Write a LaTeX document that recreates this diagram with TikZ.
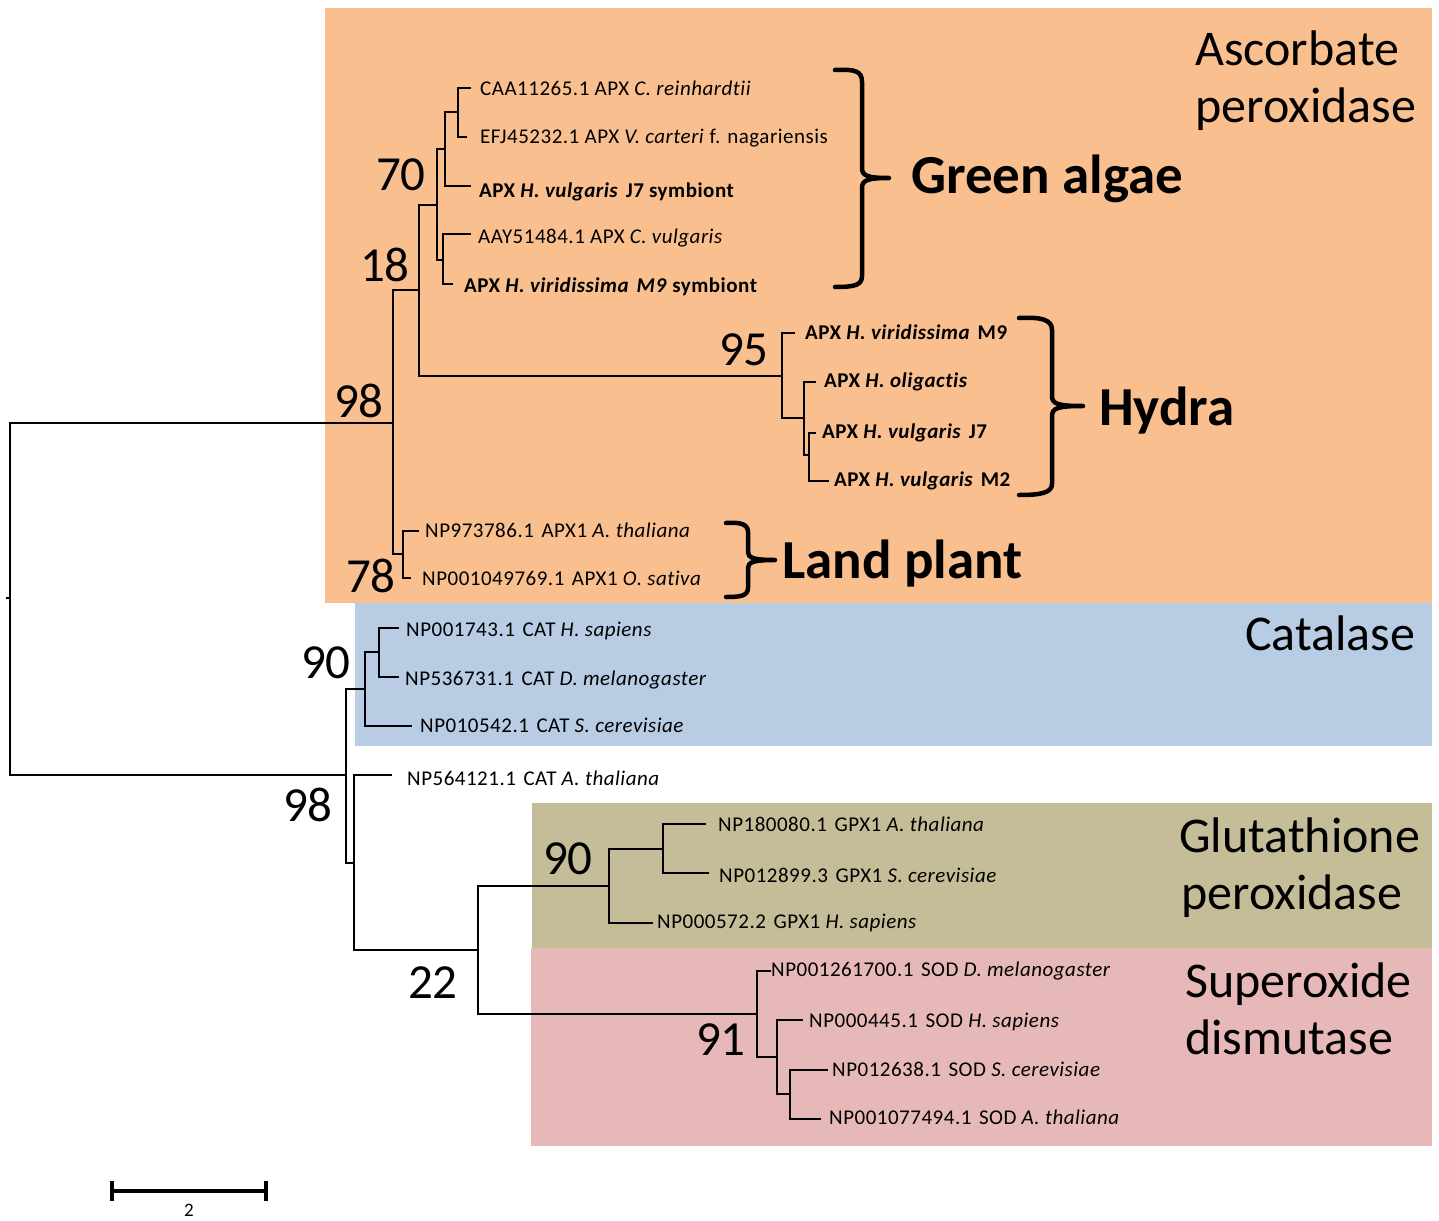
\documentclass[tikz,border=0pt]{standalone}
\usepackage{fontspec}
\setmainfont{Carlito}
\newfontfamily\leaffont{Carlito}[LetterSpace=2.4,Ligatures=NoCommon]
\definecolor{apxc}{HTML}{F9BF8F}
\definecolor{catc}{HTML}{B8CCE4}
\definecolor{gpxc}{HTML}{C4BD97}
\definecolor{sodc}{HTML}{E6B8B7}
\newcommand\twosp{\hskip0.36em\relax}
\tikzset{
  br/.style={line width=1.6pt, line cap=rect},
  leaf/.style={anchor=base west, inner sep=0pt, font=\leaffont\fontsize{21}{25}\selectfont},
  boot/.style={anchor=base east, inner sep=0pt, font=\fontsize{49}{55}\selectfont},
  grp/.style={anchor=base west, inner sep=0pt, font=\fontsize{50}{58}\selectfont},
  clade/.style={anchor=base west, inner sep=0pt, font=\bfseries\fontsize{55}{60}\selectfont},
  bracepath/.style={line width=4.5pt, line cap=round, line join=round}
}
\begin{document}
\begin{tikzpicture}[x=1pt,y=-1pt]
\useasboundingbox (0,0) rectangle (1439,1220);
\fill[white] (0,0) rectangle (1439,1220);
% backgrounds
\fill[apxc] (325,8) rectangle (1432,603);
\fill[catc] (355,603) rectangle (1432,746);
\fill[gpxc] (532,803) rectangle (1432,948);
\fill[sodc] (531,948) rectangle (1432,1146);

% internal nodes
\coordinate (root) at (10,598);
\coordinate (A) at (393,423);
\coordinate (N18) at (419,290);
\coordinate (N70) at (437,205);
\coordinate (N1) at (445,149);
\coordinate (N3) at (458,112);
\coordinate (N2) at (443,260);
\coordinate (H95) at (782,376);
\coordinate (H2) at (804,418);
\coordinate (H3) at (809,455);
\coordinate (LP) at (403,554);
\coordinate (B) at (346,775);
\coordinate (C90) at (365,689);
\coordinate (C2) at (379,652);
\coordinate (D) at (354,863);
\coordinate (E22) at (478,950);
\coordinate (G90) at (609,886);
\coordinate (G2) at (663,849);
\coordinate (S91) at (757,1014);
\coordinate (S2) at (777,1057);
\coordinate (S3) at (790,1094);
% leaf tips
\coordinate (t1) at (470,88);
\coordinate (t2) at (466,137);
\coordinate (t3) at (470,186);
\coordinate (t4) at (470,234);
\coordinate (t5) at (452,284);
\coordinate (t6) at (794,333);
\coordinate (t7) at (815,382);
\coordinate (t8) at (815,433);
\coordinate (t9) at (828,481);
\coordinate (t10) at (418,531);
\coordinate (t11) at (410,578);
\coordinate (t12) at (398,628);
\coordinate (t13) at (398,677);
\coordinate (t14) at (411,726);
\coordinate (t15) at (391,775);
\coordinate (t16) at (705,824);
\coordinate (t17) at (708,873);
\coordinate (t18) at (652,923);
\coordinate (t19) at (770,971);
\coordinate (t20) at (802,1020);
\coordinate (t21) at (827,1070);
\coordinate (t22) at (820,1119);
\coordinate (rt) at (7,598);

% branches
\draw[br] (root) -- (rt);
\draw[br] (root) |- (A);
\draw[br] (root) |- (B);
\draw[br] (A) |- (N18);
\draw[br] (A) |- (LP);
\draw[br] (N18) |- (N70);
\draw[br] (N18) |- (H95);
\draw[br] (N70) |- (N1);
\draw[br] (N70) |- (N2);
\draw[br] (N1) |- (N3);
\draw[br] (N1) |- (t3);
\draw[br] (N3) |- (t1);
\draw[br] (N3) |- (t2);
\draw[br] (N2) |- (t4);
\draw[br] (N2) |- (t5);
\draw[br] (H95) |- (t6);
\draw[br] (H95) |- (H2);
\draw[br] (H2) |- (t7);
\draw[br] (H2) |- (H3);
\draw[br] (H3) |- (t8);
\draw[br] (H3) |- (t9);
\draw[br] (LP) |- (t10);
\draw[br] (LP) |- (t11);
\draw[br] (B) |- (C90);
\draw[br] (B) |- (D);
\draw[br] (C90) |- (C2);
\draw[br] (C90) |- (t14);
\draw[br] (C2) |- (t12);
\draw[br] (C2) |- (t13);
\draw[br] (D) |- (t15);
\draw[br] (D) |- (E22);
\draw[br] (E22) |- (G90);
\draw[br] (E22) |- (S91);
\draw[br] (G90) |- (G2);
\draw[br] (G90) |- (t18);
\draw[br] (G2) |- (t16);
\draw[br] (G2) |- (t17);
\draw[br] (S91) |- (t19);
\draw[br] (S91) |- (S2);
\draw[br] (S2) |- (t20);
\draw[br] (S2) |- (S3);
\draw[br] (S3) |- (t21);
\draw[br] (S3) |- (t22);

% leaf labels
\node[leaf] (l1) at (480,96) {CAA11265.1 APX \textit{C. reinhardtii}};
\node[leaf] (l2) at (480,143) {EFJ45232.1 APX \textit{V. carteri} f. nagariensis};
\node[leaf] (l3) at (479,197) {\bfseries APX \textit{H. vulgaris}\twosp J7 symbiont};
\node[leaf] (l4) at (478,243) {AAY51484.1 APX \textit{C. vulgaris}};
\node[leaf] (l5) at (464,292) {\bfseries APX \textit{H. viridissima}\twosp\textit{M9} symbiont};
\node[leaf] (l6) at (805,339) {\bfseries APX \textit{H. viridissima}\twosp M9};
\node[leaf] (l7) at (824,387) {\bfseries APX \textit{H. oligactis}};
\node[leaf] (l8) at (822,438) {\bfseries APX \textit{H. vulgaris}\twosp J7};
\node[leaf] (l9) at (834,486) {\bfseries APX \textit{H. vulgaris}\twosp M2};
\node[leaf] (l10) at (425,537) {NP973786.1\twosp APX1 \textit{A. thaliana}};
\node[leaf] (l11) at (422,585) {NP001049769.1\twosp APX1 \textit{O. sativa}};
\node[leaf] (l12) at (406,636) {NP001743.1\twosp CAT \textit{H. sapiens}};
\node[leaf] (l13) at (405,685) {NP536731.1\twosp CAT \textit{D. melanogaster}};
\node[leaf] (l14) at (420,732) {NP010542.1\twosp CAT \textit{S. cerevisiae}};
\node[leaf] (l15) at (407,785) {NP564121.1\twosp CAT \textit{A. thaliana}};
\node[leaf] (l16) at (718,831) {NP180080.1\twosp GPX1 \textit{A. thaliana}};
\node[leaf] (l17) at (719,882) {NP012899.3\twosp GPX1 \textit{S. cerevisiae}};
\node[leaf] (l18) at (657,928) {NP000572.2\twosp GPX1 \textit{H. sapiens}};
\node[leaf] (l19) at (771,976) {NP001261700.1\twosp SOD \textit{D. melanogaster}};
\node[leaf] (l20) at (809,1027) {NP000445.1\twosp SOD \textit{H. sapiens}};
\node[leaf] (l21) at (832,1076) {NP012638.1\twosp SOD \textit{S. cerevisiae}};
\node[leaf] (l22) at (829,1124) {NP001077494.1\twosp SOD \textit{A. thaliana}};

% bootstrap values
\node[boot] (b70) at (426,190) {70};
\node[boot] (b18) at (410,281) {18};
\node[boot] (b98a) at (384,417) {98};
\node[boot] (b95) at (769,365) {95};
\node[boot] (b78) at (396,592) {78};
\node[boot] (b90a) at (351,678) {90};
\node[boot] (b98b) at (333,821) {98};
\node[boot] (b22) at (458,998) {22};
\node[boot] (b90b) at (593,874) {90};
\node[boot] (b91) at (746,1055) {91};

% group labels
\node[grp] (g1a) at (1195,66) {Ascorbate};
\node[grp] (g1b) at (1195,123) {peroxidase};
\node[grp] (g2) at (1245,650) {Catalase};
\node[grp] (g3a) at (1179,852) {Glutathione};
\node[grp] (g3b) at (1181,909) {peroxidase};
\node[grp] (g4a) at (1185,997) {Superoxide};
\node[grp] (g4b) at (1185,1054) {dismutase};

% clade labels
\node[clade] (c1) at (911,193) {Green algae};
\node[clade] (c2) at (1099,425) {Hydra};
\node[clade] (c3) at (782,578) {Land plant};

% braces
\draw[bracepath] (835,70) .. controls (855,69) and (862,71) .. (862,82) -- (862,168) .. controls (862,176) and (868,178) .. (889,178) .. controls (868,178) and (862,180) .. (862,188) -- (862,276) .. controls (862,285) and (855,287) .. (835,287);
\draw[bracepath] (1019,318) .. controls (1040,317) and (1052,319) .. (1052,330) -- (1052,396) .. controls (1052,404) and (1058,406) .. (1083,406) .. controls (1058,406) and (1052,408) .. (1052,416) -- (1052,484) .. controls (1052,493) and (1040,495) .. (1019,495);
\draw[bracepath] (726,523) .. controls (740,522) and (748,524) .. (748,532) -- (748,552) .. controls (748,558) and (754,560) .. (775,560) .. controls (754,560) and (748,562) .. (748,568) -- (748,588) .. controls (748,596) and (740,597) .. (726,597);

% scale bar
\coordinate (sb1) at (112,1191);
\coordinate (sb2) at (266,1191);
\draw[line width=3.2pt] (sb1) -- (sb2);
\draw[line width=3.2pt] ([yshift=-10pt]sb1) -- ([yshift=10pt]sb1);
\draw[line width=3.2pt] ([yshift=-10pt]sb2) -- ([yshift=10pt]sb2);
\node[anchor=base, inner sep=0pt, font=\fontsize{19}{22}\selectfont] (sbl) at (189,1216) {2};
\end{tikzpicture}
\end{document}
